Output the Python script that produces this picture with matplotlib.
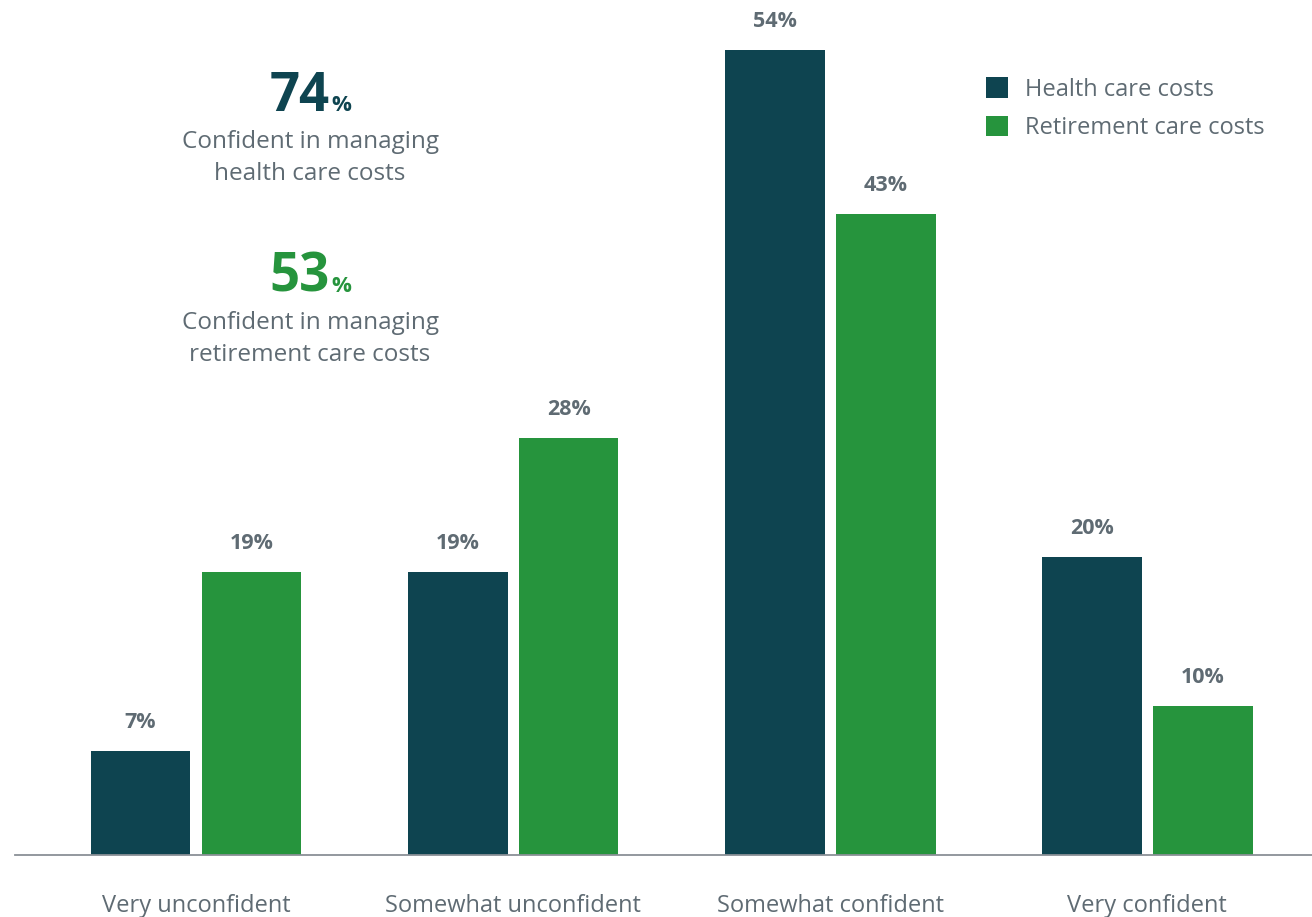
import matplotlib.pyplot as plt
import numpy as np

categories = ["Very unconfident", "Somewhat unconfident", "Somewhat confident", "Very confident"]
health = [7, 19, 54, 20]
retirement = [19, 28, 43, 10]
series_names = ["Health care costs", "Retirement care costs"]
summary_values = ["74", "53"]
summary_texts = ["Confident in managing\nhealth care costs",
                 "Confident in managing\nretirement care costs"]

DARK = "#0E4450"
GREEN = "#26943D"
GRAY = "#5F6B73"

plt.rcParams['font.family'] = ['Open Sans', 'DejaVu Sans']

W, H = 1312, 917
fig = plt.figure(figsize=(W / 100, H / 100), dpi=100)
ax = fig.add_axes([15 / W, (H - 855) / H, (W - 15) / W, 855 / H])

x = np.arange(len(categories))
width = 0.315
offset = 0.175
b1 = ax.bar(x - offset, health, width, color=DARK, label=series_names[0])
b2 = ax.bar(x + offset, retirement, width, color=GREEN, label=series_names[1])

for bars, vals in ((b1, health), (b2, retirement)):
    for rect, v in zip(bars, vals):
        ax.annotate(f"{v}%", (rect.get_x() + rect.get_width() / 2, v),
                    xytext=(0, 20.5), textcoords="offset points",
                    ha="center", va="center", fontsize=15.5,
                    fontweight="bold", color=GRAY)

ax.set_xlim(-0.571, 3.52)
ax.set_ylim(0, 54 * 855 / 805)

for s in ("top", "right", "left"):
    ax.spines[s].set_visible(False)
ax.spines["bottom"].set_color("#8A9096")
ax.spines["bottom"].set_linewidth(1.3)
ax.set_yticks([])
ax.set_xticks(x)
ax.set_xticklabels(categories, fontsize=17, color=GRAY)
ax.tick_params(axis="x", length=0, pad=28)

leg = ax.legend(loc="upper left", bbox_to_anchor=((987 - 15) / (W - 15) - 0.008, (855 - 68) / 855),
                frameon=False, fontsize=17, handlelength=0.95, handleheight=0.95,
                handletextpad=0.7, labelspacing=0.6, borderaxespad=0)
for t in leg.get_texts():
    t.set_color(GRAY)

# summary figures on the left
colors = [DARK, GREEN]
num_base = [111, 292]
for val, txt, col, yb in zip(summary_values, summary_texts, colors, num_base):
    fig.text(330 / W, 1 - yb / H, val, ha="right", va="baseline",
             fontsize=38, fontweight="bold", color=col)
    fig.text(331 / W, 1 - yb / H, "%", ha="left", va="baseline",
             fontsize=16, fontweight="bold", color=col)
    fig.text(310 / W, 1 - (yb + 47) / H, txt, ha="center", va="center",
             fontsize=17.5, color=GRAY, linespacing=1.45)

fig.savefig("out.png", dpi=100)
